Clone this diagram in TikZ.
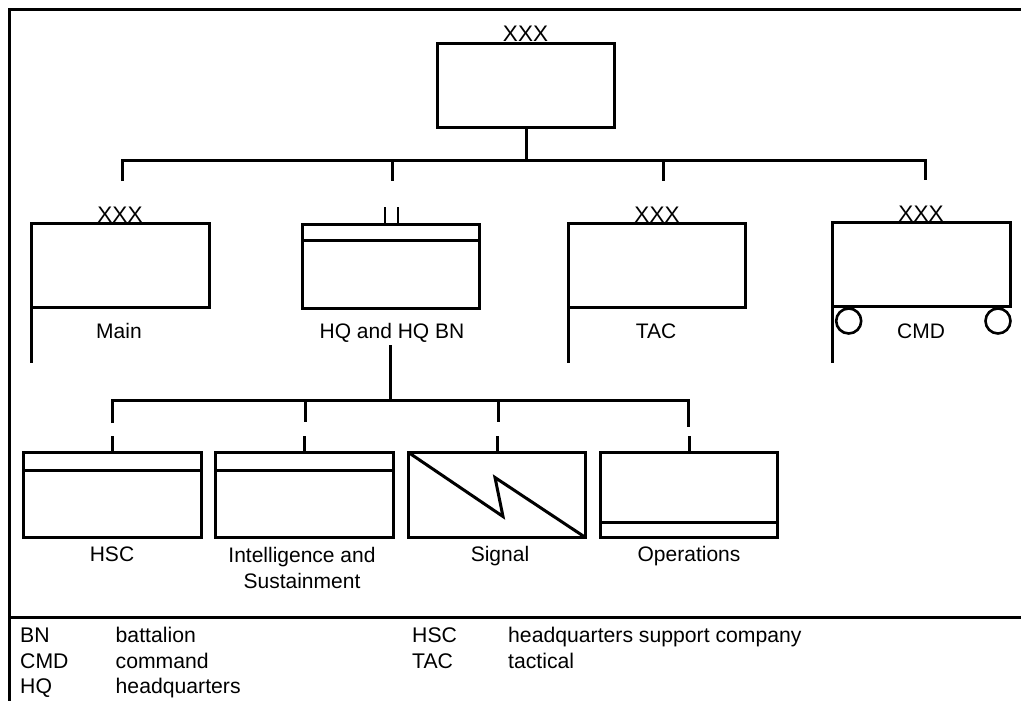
\documentclass[tikz,border=0pt]{standalone}
\usepackage{fontspec}
\setmainfont{Liberation Sans}
\tikzset{
  unitbox/.style={draw=black,line width=3pt,fill=white,inner sep=0pt,outer sep=0pt,anchor=north west,minimum width=177.5pt,minimum height=84pt},
  link/.style={draw=black,line width=3pt},
  thinlink/.style={draw=black,line width=2pt},
  label/.style={font=\fontsize{21}{26}\selectfont,inner sep=0pt,anchor=base,align=center},
  legend/.style={font=\fontsize{21.2}{26}\selectfont,inner sep=0pt,anchor=base west},
  echelon/.style={font=\fontsize{22.5}{26}\selectfont,inner sep=0pt,anchor=base},
  wheel/.style={circle,draw=black,line width=2.6pt,inner sep=0pt,minimum size=25pt,fill=white}
}
\begin{document}
\begin{tikzpicture}[x=1pt,y=-1pt]
\useasboundingbox[fill=white] (0,0) rectangle (1021,701);
% frame
\coordinate (frameBL) at (9.5,701);
\coordinate (frameTL) at (9.5,9.5);
\coordinate (frameTR) at (1021,9.5);
\coordinate (legendL) at (9.5,617.5);
\coordinate (legendR) at (1021,617.5);
\draw[link] (frameBL) -- (frameTL) -- (frameTR);
\draw[link] (legendL) -- (legendR);
% top unit
\node[unitbox,minimum width=177pt] (top) at (437.5,43.5) {};
\node[echelon] (topX) at (525.5,42) {XXX};
% first level bus
\coordinate (busA) at (526.5,160.5);
\coordinate (bus1) at (122.5,160.5);
\coordinate (bus2) at (392.5,160.5);
\coordinate (bus3) at (663.5,160.5);
\coordinate (bus4) at (925.5,160.5);
\coordinate (drop1) at (122.5,181);
\coordinate (drop2) at (392.5,181);
\coordinate (drop3) at (663.5,181);
\coordinate (drop4) at (925.5,180);
\draw[link] (top.south -| busA) -- (busA);
\draw[link] (drop1) -- (bus1) -- (bus4) -- (drop4);
\draw[link] (bus2) -- (drop2);
\draw[link] (bus3) -- (drop3);
% Main
\node[unitbox] (main) at (31.5,223.5) {};
\coordinate (mainEnd) at (31.5,363);
\draw[link] (main.south west) -- (mainEnd);
\node[echelon] (mainX) at (120,222) {XXX};
\node[label] (mainL) at (119,338) {Main};
% HQ and HQ BN
\node[unitbox,minimum width=177pt] (hq) at (302.5,224.5) {};
\coordinate (hqBarL) at (302.5,240.5);
\coordinate (hqBarR) at (479.5,240.5);
\draw[link] (hqBarL) -- (hqBarR);
\coordinate (iiA) at (385,207);
\coordinate (iiAb) at (385,224.5);
\coordinate (iiB) at (398,207);
\coordinate (iiBb) at (398,224.5);
\draw[thinlink] (iiA) -- (iiAb);
\draw[thinlink] (iiB) -- (iiBb);
\node[label] (hqL) at (392,338) {HQ and HQ BN};
% TAC
\node[unitbox,minimum width=177pt] (tac) at (568.5,223.5) {};
\coordinate (tacEnd) at (568.5,363);
\draw[link] (tac.south west) -- (tacEnd);
\node[echelon] (tacX) at (657,222) {XXX};
\node[label] (tacL) at (656,338) {TAC};
% CMD
\node[unitbox,minimum width=178pt] (cmd) at (832.5,222.5) {};
\coordinate (cmdEnd) at (832.5,363);
\draw[link] (cmd.south west) -- (cmdEnd);
\node[echelon] (cmdX) at (921,221) {XXX};
\node[label] (cmdL) at (921,338) {CMD};
\node[wheel] (wheelA) at (848.7,321) {};
\node[wheel] (wheelB) at (998,321) {};
% second level bus
\coordinate (hqStem) at (390.5,345);
\coordinate (busB) at (390.5,400.5);
\coordinate (sub1) at (112.5,400.5);
\coordinate (sub2) at (305.5,400.5);
\coordinate (sub3) at (498.5,400.5);
\coordinate (sub4) at (688.5,400.5);
\coordinate (sub1e) at (112.5,423);
\coordinate (sub2e) at (305.5,422);
\coordinate (sub3e) at (498.5,422);
\coordinate (sub4e) at (688.5,427);
\draw[link] (hqStem) -- (busB);
\draw[link] (sub1e) -- (sub1) -- (sub4) -- (sub4e);
\draw[link] (sub2) -- (sub2e);
\draw[link] (sub3) -- (sub3e);
% lower units
\node[unitbox,minimum width=178pt,minimum height=85pt] (hsc) at (23.5,452.5) {};
\node[unitbox,minimum width=178pt,minimum height=85pt] (intel) at (215.5,452.5) {};
\node[unitbox,minimum width=177pt,minimum height=85pt] (signal) at (408.5,452.5) {};
\node[unitbox,minimum width=177pt,minimum height=85pt] (ops) at (600.5,452.5) {};
\coordinate (hscBarL) at (23.5,470.5);
\coordinate (hscBarR) at (201.5,470.5);
\coordinate (intelBarL) at (215.5,470.5);
\coordinate (intelBarR) at (393.5,470.5);
\coordinate (opsBarL) at (600.5,522.5);
\coordinate (opsBarR) at (777.5,522.5);
\draw[link] (hscBarL) -- (hscBarR);
\draw[link] (intelBarL) -- (intelBarR);
\draw[link] (opsBarL) -- (opsBarR);
\coordinate (zigA) at (503,516.5);
\coordinate (zigB) at (495,477.5);
\draw[link,miter limit=10] (signal.north west) -- (zigA) -- (zigB) -- (signal.south east);
% short lower stems
\coordinate (stub1) at (112.5,436);
\coordinate (stub2) at (304.5,436);
\coordinate (stub3) at (497.5,436);
\coordinate (stub4) at (689.5,436);
\draw[link] (stub1) -- (stub1 |- hsc.north);
\draw[link] (stub2) -- (stub2 |- intel.north);
\draw[link] (stub3) -- (stub3 |- signal.north);
\draw[link] (stub4) -- (stub4 |- ops.north);
% lower labels
\node[label] (hscL) at (112,561.5) {HSC};
\node[label,anchor=north] (intelL) at (302,547.5) {Intelligence and\\Sustainment};
\node[label] (signalL) at (500,561.5) {Signal};
\node[label] (opsL) at (689,561.5) {Operations};
% legend
\node[legend] (k1) at (20,642) {BN};
\node[legend] (v1) at (115.5,642) {battalion};
\node[legend] (k2) at (20,668) {CMD};
\node[legend] (v2) at (115.5,668) {command};
\node[legend] (k3) at (20,693.5) {HQ};
\node[legend] (v3) at (115.5,693.5) {headquarters};
\node[legend] (k4) at (412,642) {HSC};
\node[legend] (v4) at (508,642) {headquarters support company};
\node[legend] (k5) at (412,668) {TAC};
\node[legend] (v5) at (508,668) {tactical};
\end{tikzpicture}
\end{document}
